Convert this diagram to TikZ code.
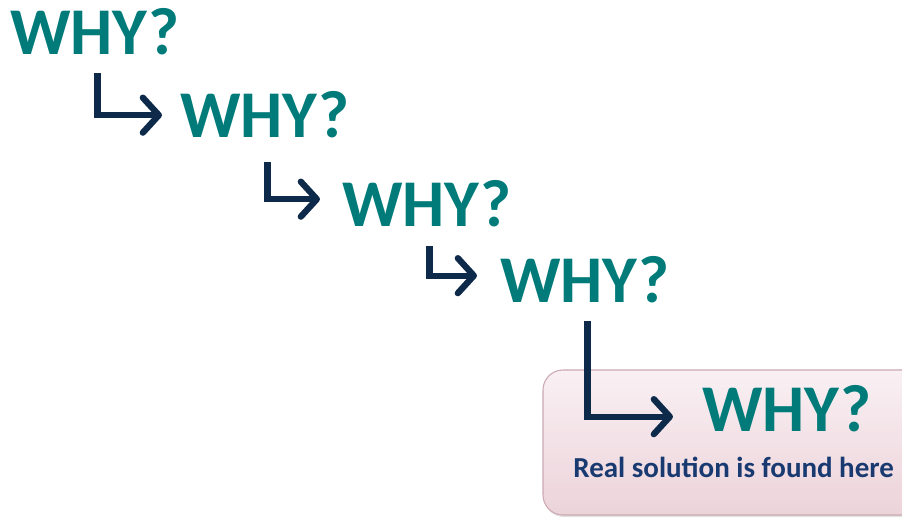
\documentclass[tikz,border=0pt]{standalone}
\usepackage{fontspec}
\setmainfont{Carlito}
\usetikzlibrary{arrows.meta,positioning,shadows}
\definecolor{whyteal}{RGB}{0,123,121}
\definecolor{arrownavy}{RGB}{14,42,74}
\definecolor{noteblue}{RGB}{24,58,112}
\definecolor{boxtop}{RGB}{249,240,243}
\definecolor{boxbottom}{RGB}{236,211,218}
\definecolor{boxedge}{RGB}{204,168,178}

\begin{document}
\begin{tikzpicture}[
    whytext/.style={inner sep=0pt, anchor=base west, text=whyteal,
        font=\fontsize{38}{40}\selectfont\bfseries},
    notetext/.style={inner sep=0pt, anchor=base west, text=noteblue,
        font=\fontsize{16.5}{19}\selectfont\bfseries},
    solvebox/.style={rectangle, rounded corners=0.4cm, draw=boxedge,
        line width=0.6pt, top color=boxtop, bottom color=boxbottom,
        drop shadow={opacity=0.22, shadow xshift=0.6pt, shadow yshift=-1.2pt}},
    flow/.style={-{Straight Barb[length=3.2mm, width=7mm, round]}, line width=3.6pt,
        arrownavy}
]
    \useasboundingbox (0,0) rectangle (18.04,10.36);

    % Box holding the last question
    \node[solvebox, minimum width=7.7cm, minimum height=2.9cm] (found) at (14.71,1.51) {};

    % Chain of questions
    \node[whytext] (why1) at (0.2,9.26) {WHY?};
    \node[whytext] (why2) at (3.6,7.6) {WHY?};
    \node[whytext] (why3) at (6.84,5.82) {WHY?};
    \node[whytext] (why4) at (10.0,4.3) {WHY?};
    \node[whytext] (why5) at (14.04,1.72) {WHY?};
    \node[notetext] (note) at (11.46,0.8) {Real solution is found here};

    % Elbow arrows
    \draw[flow] ([xshift=0.05cm, yshift=-0.34cm]why1.south) |- ([xshift=-0.36cm]why2.west);
    \draw[flow] ([xshift=0.05cm, yshift=-0.46cm]why2.south) |- ([xshift=-0.44cm, yshift=0.1cm]why3.west);
    \draw[flow] ([xshift=0.05cm, yshift=-0.36cm]why3.south) |- ([xshift=-0.46cm, yshift=0.09cm]why4.west);
    \draw[flow] ([xshift=0.05cm, yshift=-0.34cm]why4.south) |- ([xshift=-0.58cm, yshift=-0.15cm]why5.west);
\end{tikzpicture}
\end{document}
